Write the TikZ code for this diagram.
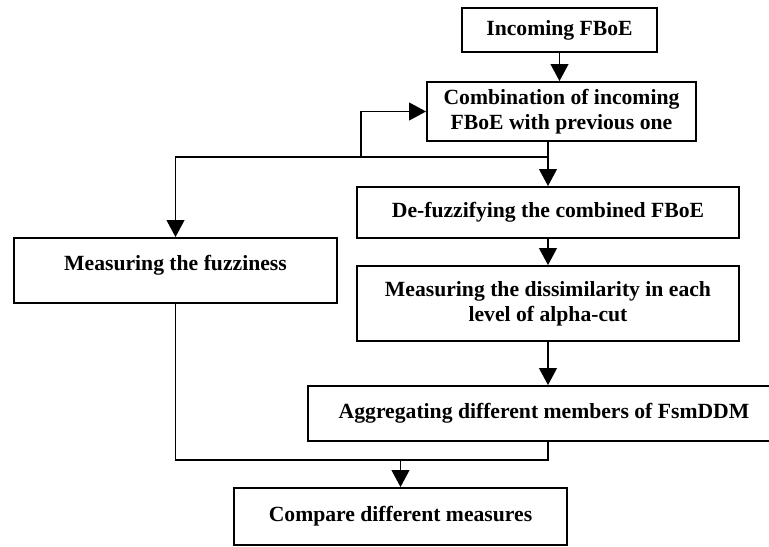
\documentclass[tikz,border=0pt]{standalone}
\usepackage{fontspec}
\setmainfont{Liberation Serif}
\usepackage{tikz}
\usetikzlibrary{arrows.meta}
\newcommand{\pxu}{0.025cm}
\tikzset{
  procnode/.style = {draw=black, line width=1.3pt, rectangle, align=center,
    inner sep=0pt, font=\bfseries\fontsize{15.4}{17.6}\selectfont},% boite de traitement
  procnode_t/.style = {procnode, text height=1em, text depth=1em},% texte en haut
  flowline/.style = {line width=1.3pt, -{Triangle[width=12.5pt,length=12pt]}}
}
\begin{document}
\begin{tikzpicture}[x=\pxu, y=-\pxu]
\useasboundingbox (0,0) rectangle (769,546);
\node [procnode, minimum width=195*\pxu, minimum height=44*\pxu] (inc) at (559.5,30) {Incoming FBoE};
\node [procnode, minimum width=269*\pxu, minimum height=59*\pxu] (comb) at (561.5,111.5)
  {Combination of incoming\\FBoE with previous one};
\node [procnode, minimum width=382*\pxu, minimum height=51*\pxu] (defuz) at (548,212.5)
  {De-fuzzifying the combined FBoE};
\node [procnode, minimum width=382*\pxu, minimum height=75*\pxu] (dissim) at (548,303.5)
  {Measuring the dissimilarity in each\\level of alpha-cut};
\node [procnode, minimum width=472*\pxu, minimum height=55*\pxu] (aggr) at (544,413.5)
  {Aggregating different members of FsmDDM};
\node [procnode_t, minimum width=323*\pxu, minimum height=65*\pxu] (fuzz) at (175.5,270.5)
  {Measuring the fuzziness};
\node [procnode, minimum width=333*\pxu, minimum height=57*\pxu] (cmp) at (400.5,516.5)
  {Compare different measures};

\coordinate (j1) at (548,157);
\coordinate (fb) at (361,157);
\coordinate (j2) at (400.5,460);

\draw [flowline] (inc) -- (comb.north -| inc);
\draw [flowline] (defuz.north |- comb.south) -- (defuz.north);
\draw [flowline] (j1) -| (fuzz.north);
\draw [flowline] (fb) |- (comb.west);
\draw [flowline] (defuz) -- (dissim);
\draw [flowline] (dissim.south) -- (dissim.south |- aggr.north);
\draw [line width=1.3pt] (aggr.south -| dissim.south) |- (j2) -| (fuzz.south);
\draw [flowline] (j2) -- (cmp.north);
\end{tikzpicture}
\end{document}
